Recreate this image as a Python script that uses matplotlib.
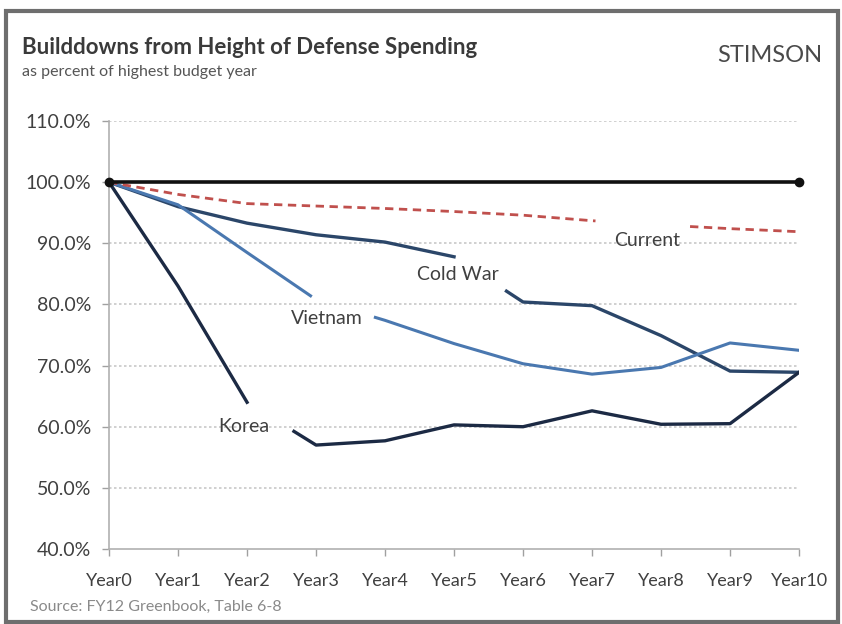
import numpy as np
import matplotlib
matplotlib.use("Agg")
import matplotlib.pyplot as plt

plt.rcParams['font.family'] = ['Lato', 'DejaVu Sans']

years = ["Year0", "Year1", "Year2", "Year3", "Year4", "Year5",
         "Year6", "Year7", "Year8", "Year9", "Year10"]
baseline = [100, 100, 100, 100, 100, 100, 100, 100, 100, 100, 100]
current = [100, 98.0, 96.5, 96.1, 95.7, 95.2, 94.6, 93.7, 93.0, 92.4, 91.9]
cold_war = [100, 96.0, 93.3, 91.4, 90.2, 87.8, 80.4, 79.8, 74.9, 69.1, 68.9]
vietnam = [100, 96.3, 88.5, 80.8, 77.4, 73.6, 70.3, 68.6, 69.7, 73.7, 72.5]
korea = [100, 83.0, 64.0, 57.0, 57.7, 60.3, 60.0, 62.6, 60.4, 60.5, 68.9]

# pieces of each line that are left out around the labels (in year units)
gaps = {
    "Current": [(7.05, 8.42)],
    "Cold War": [(5.0, 5.76)],
    "Vietnam": [(2.92, 3.86)],
    "Korea": [(2.0, 2.68)],
}

text_col = "#404040"


def draw_broken(ax, vals, gap_list, **kw):
    x = np.arange(len(vals))
    edges = [0.0]
    for a, b in gap_list:
        edges += [a, b]
    edges.append(float(len(vals) - 1))
    for a, b in zip(edges[0::2], edges[1::2]):
        xs = [a] + [i for i in x if a < i < b] + [b]
        ys = np.interp(xs, x, vals)
        ax.plot(xs, ys, **kw)


fig = plt.figure(figsize=(8.42, 6.24), dpi=100)
ax = fig.add_axes([0.1295, 0.1202, 0.8195, 0.6858])

x = np.arange(len(years))
ax.plot(x, baseline, color="#111111", lw=2.6, zorder=5)
ax.plot([x[0], x[-1]], [baseline[0], baseline[-1]], 'o', color="#111111",
        ms=6, zorder=6, clip_on=False)
draw_broken(ax, current, gaps["Current"], color="#c0504d", lw=2, ls=(0, (3, 2)), zorder=4)
draw_broken(ax, cold_war, gaps["Cold War"], color="#2b4669", lw=2.4, zorder=3)
draw_broken(ax, vietnam, gaps["Vietnam"], color="#4a78b0", lw=2.2, zorder=3)
draw_broken(ax, korea, gaps["Korea"], color="#1c2a44", lw=2.4, zorder=3)

lab_fs = 14
ax.text(7.8, 90.4, "Current", fontsize=lab_fs, color=text_col, ha="center", va="center")
ax.text(5.05, 84.9, "Cold War", fontsize=lab_fs, color=text_col, ha="center", va="center")
ax.text(3.15, 77.7, "Vietnam", fontsize=lab_fs, color=text_col, ha="center", va="center")
ax.text(1.95, 60.0, "Korea", fontsize=lab_fs, color=text_col, ha="center", va="center")

ax.set_xlim(0, 10)
ax.set_ylim(40, 110)
ax.set_xticks(x)
ax.set_xticklabels(years)
yt = np.arange(40, 111, 10)
ax.set_yticks(yt)
ax.set_yticklabels(["%.1f%%" % v for v in yt])
ax.tick_params(axis="both", colors="#a0a0a0", labelcolor=text_col,
               length=5, width=1)
ax.tick_params(axis="x", pad=12, labelsize=13)
ax.tick_params(axis="y", pad=8, labelsize=14)
for v in yt[1:]:
    ax.axhline(v, color="#c8c8c8", lw=1.2, ls=(0, (1.5, 1.5)), zorder=1)
for s in ["top", "right"]:
    ax.spines[s].set_visible(False)
for s in ["left", "bottom"]:
    ax.spines[s].set_color("#b0b0b0")
    ax.spines[s].set_linewidth(1.2)

fig.text(22 / 842, 1 - 47 / 624, "Builddowns from Height of Defense Spending",
         fontsize=16, fontweight="bold", color="#3a3a3a", va="center")
fig.text(22 / 842, 1 - 72 / 624, "as percent of highest budget year",
         fontsize=11.5, color="#555555", va="center")
fig.text(822 / 842, 1 - 55 / 624, "STIMSON", fontsize=17, color="#4a4a4a",
         ha="right", va="center")
fig.text(30 / 842, 1 - 607 / 624, "Source: FY12 Greenbook, Table 6-8",
         fontsize=11.5, color="#8a8a8a", va="center")

# outer frame
frame = plt.Rectangle((6 / 842, 2 / 624), 832 / 842, 611 / 624, transform=fig.transFigure,
                      fill=False, edgecolor="#6e6e6e", lw=3)
fig.patches.append(frame)

fig.savefig("out.png", dpi=100)
